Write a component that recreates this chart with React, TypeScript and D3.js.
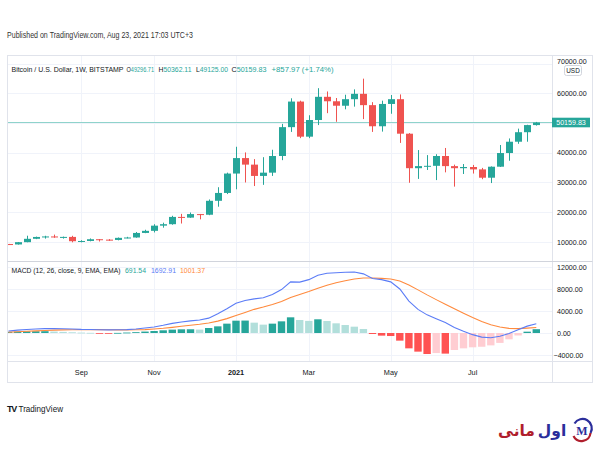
import React from "react";
import * as d3 from "d3";

// ---- Data (weekly BTC/USD, Bitstamp) ----
const firstWeek = "2020-07-13";
const lastWeek = "2021-08-23";
const opens = [9300, 9160, 9930, 11060, 11680, 11850, 11660, 11700, 10250, 10330, 10920, 10780, 10670, 11380, 11500, 13030, 13740, 15480, 15970, 18420, 18180, 19370, 19150, 23840, 26480, 33000, 38200, 36000, 32200, 33300, 38900, 48600, 57200, 45400, 51000, 58800, 57300, 55800, 58000, 59800, 56000, 48900, 56400, 58000, 46400, 34800, 35500, 35600, 38900, 35500, 34800, 35200, 34400, 31600, 35300, 39900, 43700, 46900, 49296.71];
const highs = [9340, 9990, 12100, 11800, 12080, 12470, 11800, 12070, 10570, 11180, 10990, 10950, 11500, 11720, 13350, 14100, 15960, 16480, 18800, 19450, 19900, 19420, 24280, 28400, 33300, 42000, 40100, 37850, 38500, 41000, 49700, 58300, 57500, 52600, 61700, 60600, 58400, 59500, 61300, 64900, 57000, 57500, 59400, 59600, 46600, 40900, 39200, 39500, 41600, 36000, 36200, 35900, 34900, 35400, 42600, 44800, 48100, 49400, 50362.11];
const lows = [9050, 9120, 9900, 10950, 11130, 11400, 11130, 9880, 9860, 10210, 10150, 10380, 10540, 11210, 11420, 12950, 13200, 14800, 15800, 16200, 18100, 17600, 19000, 21850, 26100, 27700, 30000, 28800, 29200, 32200, 37500, 47000, 44900, 44900, 49300, 53300, 50400, 54600, 55500, 51300, 47000, 47100, 53100, 43300, 29900, 31200, 34200, 30800, 33400, 28600, 32850, 33000, 31100, 29800, 35200, 37300, 43000, 43700, 49125.0];
const closes = [9160, 9930, 11060, 11680, 11850, 11660, 11700, 10250, 10330, 10920, 10780, 10670, 11380, 11500, 13030, 13740, 15480, 15970, 18420, 18180, 19370, 19150, 23840, 26480, 33000, 38200, 36000, 32200, 33300, 38900, 48600, 57200, 45400, 51000, 58800, 57300, 55800, 58000, 59800, 56000, 48900, 56400, 58000, 46400, 34800, 35500, 35600, 38900, 35500, 34800, 35200, 34400, 31600, 35300, 39900, 43700, 46900, 49296.71, 50159.83];

const macdLine = [360, 520, 650, 740, 790, 800, 780, 720, 660, 640, 600, 560, 590, 620, 720, 900, 1090, 1400, 1750, 2000, 2200, 2350, 2700, 3500, 4400, 5400, 5900, 6200, 6400, 7000, 7900, 9300, 9250, 9700, 10500, 10850, 10950, 11050, 11100, 10750, 9900, 9700, 9300, 8000, 5800, 4300, 3300, 2600, 1900, 1000, 300, -300, -750, -850, -600, -100, 600, 1250, 1692.91];
const signalLine = [160, 230, 310, 390, 460, 520, 570, 600, 610, 620, 620, 600, 560, 560, 580, 620, 720, 850, 1030, 1220, 1420, 1600, 1820, 2160, 2610, 3170, 3720, 4300, 4720, 5180, 5720, 6440, 7000, 7540, 8130, 8670, 9130, 9510, 9830, 10010, 10000, 9940, 9810, 9450, 8720, 7840, 6930, 6070, 5240, 4400, 3580, 2800, 2090, 1500, 1080, 840, 790, 880, 1001.37];
const histogram = [200, 260, 300, 320, 330, 260, 200, 130, 70, 30, -40, -90, 20, 80, 150, 260, 360, 490, 610, 670, 680, 620, 910, 1210, 1700, 2240, 2260, 1880, 1520, 1700, 2120, 2850, 2360, 2200, 2490, 2180, 1760, 1450, 1150, 730, -180, -480, -550, -1390, -2790, -3390, -3820, -3650, -3750, -3090, -2790, -2600, -2500, -2250, -1800, -1150, -450, 240, 691.54];

const priceTicks = [10000, 20000, 30000, 40000, 50000, 60000, 70000];
const priceTickLabels = ["10000.00", "20000.00", "30000.00", "40000.00", "", "60000.00", "70000.00"];
const macdTicks = [-4000, 0, 4000, 8000, 12000];
const macdTickLabels = ["\u22124000.00", "0.00", "4000.00", "8000.00", "12000.00"];
const monthTickDates = ["2020-09-07", "2020-11-02", "2021-01-04", "2021-03-01", "2021-05-03", "2021-07-05"];
const monthTickLabels = ["Sep", "Nov", "2021", "Mar", "May", "Jul"];

const ohlcLetters = ["O", "H", "L", "C"];
const ohlcValues = ["49296.71", "50362.11", "49125.00", "50159.83"];
const changeText = "+857.97 (+1.74%)";
const macdValues = ["691.54", "1692.91", "1001.37"];
const lastPriceLabel = "50159.83";
const headerText = "Published on TradingView.com, Aug 23, 2021 17:03 UTC+3";

const UP = "#26A69A";
const DOWN = "#EF5350";
const GRID = "#f0f3fa";
const BORDER = "#e0e3eb";
const TXT = "#131722";
const MACD_COL = "#5B7CF6";
const SIG_COL = "#FF8A3D";
const FONT = "'Liberation Sans', Arial, sans-serif";

export default function App() {
  const dates = d3.utcMonday.range(new Date(firstWeek + "T00:00:00Z"), new Date(new Date(lastWeek + "T00:00:00Z").getTime() + 86400000));
  const x = d3.scaleUtc().domain([dates[0], dates[dates.length - 1]]).range([8.5, 536.3]);
  const yP = d3.scaleLinear().domain([0, 70000]).range([271.7, 63.5]);
  const yM = d3.scaleLinear().domain([-4000, 12000]).range([355, 267]);

  const bodyW = 7;
  const histW = 7.4;

  const macdPath = d3.line<number>().x((_, i) => x(dates[i])).y((d) => yM(d))(macdLine) || "";
  const sigPath = d3.line<number>().x((_, i) => x(dates[i])).y((d) => yM(d))(signalLine) || "";

  const histColor = (i: number) => {
    const v = histogram[i];
    const prev = i > 0 ? histogram[i - 1] : -Infinity;
    if (v >= 0) return v > prev ? "#26A69A" : "#B2DFDB";
    return v < prev ? "#FF5252" : "#FFCDD2";
  };

  const left = 7.5, right = 592.5, top = 55.5, bottom = 382.5, axisX = 552.5, paneSep = 261.5, xAxisTop = 361.5;
  const ohlcX = [126.5, 158.5, 196, 231.5];
  const ohlcW = [27.5, 33, 32, 35];
  const macdValX = [125, 151, 180];
  const macdValW = [21, 25, 25];
  const macdValCol = [UP, MACD_COL, SIG_COL];
  const lastY = yP(closes[closes.length - 1]);

  return (
    <svg width={600} height={450} style={{ position: "absolute", left: 0, top: 0, background: "#fff" }} fontFamily={FONT}>
      <rect x={0} y={0} width={600} height={450} fill="#fff" />
      <defs>
        <clipPath id="pricePane"><rect x={8} y={56} width={544} height={205} /></clipPath>
        <clipPath id="macdPane"><rect x={8} y={262} width={544} height={99} /></clipPath>
      </defs>

      {/* header */}
      <text x={7} y={38} fontSize={8.2} fill="#333" textLength={186} lengthAdjust="spacingAndGlyphs">{headerText}</text>

      {/* grid */}
      {monthTickDates.map((d, i) => {
        const gx = Math.round(x(new Date(d + "T00:00:00Z"))) + 0.5;
        return <line key={"vg" + i} x1={gx} x2={gx} y1={top} y2={xAxisTop} stroke={GRID} />;
      })}
      {priceTicks.map((t, i) => (
        <line key={"pg" + i} x1={left} x2={axisX} y1={Math.round(yP(t)) + 0.5} y2={Math.round(yP(t)) + 0.5} stroke={GRID} />
      ))}
      {macdTicks.map((t, i) => (
        <line key={"mg" + i} x1={left} x2={axisX} y1={Math.round(yM(t)) + 0.5} y2={Math.round(yM(t)) + 0.5} stroke={GRID} />
      ))}

      {/* last price line */}
      <line x1={left} x2={axisX} y1={lastY} y2={lastY} stroke="#8fd3cb" strokeWidth={1} />

      {/* candles */}
      <g clipPath="url(#pricePane)">
        {closes.map((c, i) => {
          const o = opens[i];
          const col = c >= o ? UP : DOWN;
          const cx = Math.round(x(dates[i])) + 0.5;
          const yt = yP(Math.max(o, c));
          const yb = yP(Math.min(o, c));
          return (
            <g key={"c" + i}>
              <line x1={cx} x2={cx} y1={yP(highs[i])} y2={yP(lows[i])} stroke={col} strokeWidth={1} />
              <rect x={cx - bodyW / 2} y={yt} width={bodyW} height={Math.max(1, yb - yt)} fill={col} />
            </g>
          );
        })}
      </g>

      {/* MACD */}
      <g clipPath="url(#macdPane)">
        {histogram.map((v, i) => {
          const cx = x(dates[i]);
          const y0 = yM(0);
          const y1 = yM(v);
          return <rect key={"h" + i} x={cx - histW / 2} y={Math.min(y0, y1)} width={histW} height={Math.max(0.8, Math.abs(y1 - y0))} fill={histColor(i)} />;
        })}
        <path d={sigPath} fill="none" stroke={SIG_COL} strokeWidth={1.1} />
        <path d={macdPath} fill="none" stroke={MACD_COL} strokeWidth={1.1} />
      </g>

      {/* frame & separators */}
      <rect x={left} y={top} width={right - left} height={bottom - top} fill="none" stroke={BORDER} />
      <line x1={axisX} x2={axisX} y1={top} y2={bottom} stroke={BORDER} />
      <line x1={left} x2={right} y1={paneSep} y2={paneSep} stroke="#d1d4dc" />
      <line x1={left} x2={right} y1={xAxisTop} y2={xAxisTop} stroke={BORDER} />

      {/* legend */}
      <text x={11.5} y={71.5} fontSize={6.9} fill={TXT} textLength={112} lengthAdjust="spacingAndGlyphs">Bitcoin / U.S. Dollar, 1W, BITSTAMP</text>
      {ohlcLetters.map((l, i) => (
        <text key={"ohlc" + i} x={ohlcX[i]} y={71.5} fontSize={6.9} fill={TXT} textLength={ohlcW[i]} lengthAdjust="spacingAndGlyphs">
          {l}
          <tspan fill={UP}>{ohlcValues[i]}</tspan>
        </text>
      ))}
      <text x={271.5} y={71.5} fontSize={6.9} fill={UP} textLength={62} lengthAdjust="spacingAndGlyphs">{changeText}</text>

      <text x={11.5} y={272.5} fontSize={6.8} fill={TXT} textLength={109} lengthAdjust="spacingAndGlyphs">MACD (12, 26, close, 9, EMA, EMA)</text>
      {macdValues.map((v, i) => (
        <text key={"mv" + i} x={macdValX[i]} y={272.5} fontSize={6.9} fill={macdValCol[i]} textLength={macdValW[i]} lengthAdjust="spacingAndGlyphs">{v}</text>
      ))}

      {/* price axis */}
      {priceTicks.map((t, i) => (
        <text key={"pl" + i} x={557} y={t === 70000 ? 63.6 : yP(t) + 2.6} fontSize={7.1} fill={TXT}>{priceTickLabels[i]}</text>
      ))}
      <rect x={564.5} y={65.5} width={17} height={10} rx={2} fill="#fff" stroke="#d1d4dc" />
      <text x={573} y={73.2} fontSize={6.4} fill={TXT} textAnchor="middle">USD</text>
      <rect x={552} y={lastY - 4.8} width={38} height={9.6} fill={UP} />
      <text x={571} y={lastY + 2.6} fontSize={7.1} fill="#fff" textAnchor="middle">{lastPriceLabel}</text>

      {/* MACD axis */}
      {macdTicks.map((t, i) => (
        <text key={"ml" + i} x={t < 0 ? 553.5 : 557} y={yM(t) + 2.6} fontSize={7.1} fill={TXT}>{macdTickLabels[i]}</text>
      ))}

      {/* time axis */}
      {monthTickDates.map((d, i) => (
        <text key={"tl" + i} x={x(new Date(d + "T00:00:00Z"))} y={374.5} fontSize={7.3} fill={TXT} textAnchor="middle" fontWeight={monthTickLabels[i] === "2021" ? "bold" : "normal"}>{monthTickLabels[i]}</text>
      ))}

      {/* TradingView footer */}
      <text x={7} y={412} fontSize={9} fontWeight="bold" fill={TXT} letterSpacing={-1.2}>TV</text>
      <text x={18.5} y={412} fontSize={8.2} fill={TXT} textLength={44.5} lengthAdjust="spacingAndGlyphs">TradingView</text>

      {/* watermark logo */}
      <text x={552} y={436} fontSize={15.5} fontWeight="bold" fill="#2b2e9b" textAnchor="middle" fontFamily="'DejaVu Sans', sans-serif">اول</text>
      <text x={516.5} y={436} fontSize={15.5} fontWeight="bold" fill="#b01e2d" textAnchor="middle" fontFamily="'DejaVu Sans', sans-serif">مانی</text>
      <path d="M 574.5 423.5 A 9 9 0 0 1 590.5 433" fill="none" stroke="#2b2e9b" strokeWidth={2.2} />
      <path d="M 590.5 433 A 9 9 0 0 1 573.5 436" fill="none" stroke="#b01e2d" strokeWidth={2.2} />
      <text x={582} y={435} fontSize={12} fontWeight="bold" fill="#2b2e9b" textAnchor="middle" fontFamily="'Liberation Serif', serif">M</text>
    </svg>
  );
}
